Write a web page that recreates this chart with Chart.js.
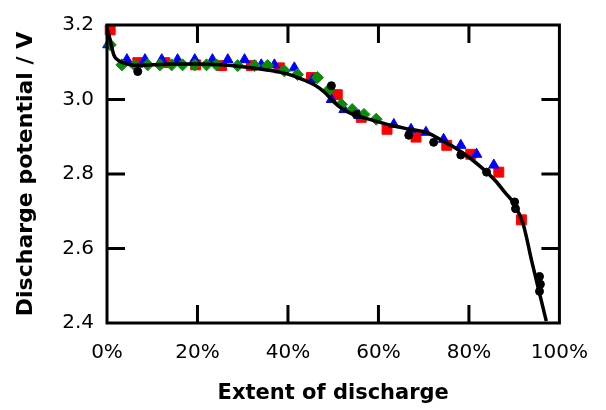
<!DOCTYPE html>
<html>
<head>
<meta charset="utf-8">
<script src="https://cdn.jsdelivr.net/npm/chart.js@4/dist/chart.umd.min.js"></script>
<style>
  html, body { margin: 0; padding: 0; background: #fff; }
  #wrap { width: 606px; height: 410px; }
</style>
</head>
<body>
<div id="wrap"><canvas id="discharge"></canvas></div>
<script>
// Fitted curve
const fitX = [0, 0.5, 1.5, 2.5, 4, 6, 10, 15, 20, 25, 30, 35, 40, 43, 46, 48, 50, 52, 54, 57, 60, 63, 67, 71, 74, 77, 80, 83, 86, 88, 90, 92, 94, 96, 97.1];
const fitY = [3.19, 3.17, 3.12, 3.105, 3.097, 3.092, 3.093, 3.095, 3.095, 3.093, 3.088, 3.08, 3.068, 3.055, 3.038, 3.02, 2.995, 2.975, 2.962, 2.95, 2.94, 2.93, 2.92, 2.91, 2.89, 2.87, 2.845, 2.815, 2.78, 2.75, 2.72, 2.665, 2.56, 2.46, 2.405];

// Measured runs
const redX = [0.7, 6.8, 12.8, 19.6, 25.3, 31.9, 38.1, 45.2, 50.9, 56.2, 61.9, 68.3, 75.1, 80.4, 86.6, 91.6];
const redY = [3.187, 3.099, 3.099, 3.093, 3.091, 3.091, 3.085, 3.059, 3.013, 2.952, 2.92, 2.899, 2.877, 2.853, 2.805, 2.677];

const blueX = [0.2, 4.4, 8.4, 12.1, 15.6, 19.4, 23.3, 26.7, 30.4, 34.1, 37, 41.4, 45.4, 49.6, 52.4, 55.7, 63.4, 67.2, 70.5, 74.4, 78.2, 81.7, 85.5];
const blueY = [3.147, 3.107, 3.107, 3.107, 3.107, 3.107, 3.107, 3.107, 3.107, 3.093, 3.093, 3.085, 3.053, 3.0, 2.973, 2.957, 2.933, 2.92, 2.912, 2.893, 2.877, 2.853, 2.824];

const greenX = [0.7, 3.3, 6.2, 9, 11.7, 14.3, 16.7, 19.4, 22, 24.2, 28.9, 32.6, 35.5, 39.2, 42.1, 46.5, 49.1, 51.8, 54.2, 56.8, 59.5];
const greenY = [3.147, 3.093, 3.091, 3.093, 3.093, 3.093, 3.093, 3.093, 3.093, 3.093, 3.091, 3.091, 3.091, 3.077, 3.067, 3.059, 3.027, 2.987, 2.973, 2.96, 2.947];

const blackX = [6.8, 49.6, 55.1, 66.7, 72.2, 78.2, 83.9, 90.1, 90.3, 95.6, 95.8, 95.6];
const blackY = [3.075, 3.037, 2.96, 2.904, 2.885, 2.851, 2.805, 2.725, 2.707, 2.525, 2.504, 2.485];

const xTicks = [0, 20, 40, 60, 80, 100];
const yTicks = [2.4, 2.6, 2.8, 3.0, 3.2];

function pts(xs, ys) {
    return xs.map(function (v, i) { return {x: v, y: ys[i]}; });
}

// Frame with inward ticks on all four sides
const TICK = 18;
const frame = {
    id: 'frame',
    afterDatasetsDraw: function (chart) {
        var ctx = chart.ctx, a = chart.chartArea;
        var sx = chart.scales.x, sy = chart.scales.y;
        ctx.save();
        ctx.strokeStyle = '#000';
        ctx.lineWidth = 3;
        ctx.beginPath();
        xTicks.forEach(function (v) {
            if (v <= 0 || v >= 100) return;
            var px = sx.getPixelForValue(v);
            ctx.moveTo(px, a.bottom); ctx.lineTo(px, a.bottom - TICK);
            ctx.moveTo(px, a.top); ctx.lineTo(px, a.top + TICK);
        });
        yTicks.forEach(function (v) {
            if (v <= 2.4 || v >= 3.2) return;
            var py = sy.getPixelForValue(v);
            ctx.moveTo(a.left, py); ctx.lineTo(a.left + TICK, py);
            ctx.moveTo(a.right, py); ctx.lineTo(a.right - TICK, py);
        });
        ctx.stroke();
        ctx.strokeRect(a.left, a.top, a.right - a.left, a.bottom - a.top);
        ctx.restore();
    }
};

var ctx = document.getElementById('discharge').getContext('2d');
var myChart = new Chart(ctx, {
    type: 'scatter',
    data: {
        datasets: [{
                type: 'line',
                data: pts(fitX, fitY),
                borderColor: '#000',
                borderWidth: 3.5,
                pointRadius: 0,
                cubicInterpolationMode: 'monotone',
                order: 0
            },
            {
                data: pts(blackX, blackY),
                backgroundColor: '#000',
                borderColor: '#000',
                pointStyle: 'circle',
                pointRadius: 4,
                clip: false,
                order: 1
            },
            {
                data: pts(greenX, greenY),
                backgroundColor: '#0a8c0a',
                borderColor: '#0a8c0a',
                pointStyle: 'rectRot',
                pointRadius: 6,
                clip: false,
                order: 2
            },
            {
                data: pts(blueX, blueY),
                backgroundColor: '#0000ff',
                borderColor: '#0000ff',
                pointStyle: 'triangle',
                pointRadius: 6,
                clip: false,
                order: 3
            },
            {
                data: pts(redX, redY),
                backgroundColor: '#ff0000',
                borderColor: '#ff0000',
                pointStyle: 'rect',
                pointRadius: 7,
                clip: false,
                order: 4
            }
        ]
    },
    options: {
        responsive: true,
        maintainAspectRatio: false,
        animation: false,
        layout: { padding: { top: 22, right: 45, left: 0, bottom: 0 } },
        plugins: { legend: { display: false }, tooltip: { enabled: false } },
        scales: {
            x: {
                type: 'linear',
                min: 0,
                max: 100,
                afterBuildTicks: function (s) { s.ticks = xTicks.map(function (v) { return {value: v}; }); },
                afterFit: function (s) { s.height = 87; },
                grid: { display: false, drawTicks: false },
                border: { display: false },
                ticks: {
                    color: '#000',
                    padding: 18,
                    font: { family: 'DejaVu Sans', size: 20 },
                    callback: function (v) { return v + '%'; }
                },
                title: {
                    display: true,
                    text: 'Extent of discharge',
                    color: '#000',
                    padding: { top: 10, bottom: 4 },
                    font: { family: 'DejaVu Sans', size: 21, weight: 'bold' }
                }
            },
            y: {
                min: 2.4,
                max: 3.2,
                afterBuildTicks: function (s) { s.ticks = yTicks.map(function (v) { return {value: v}; }); },
                afterFit: function (s) { s.width = 107; },
                grid: { display: false, drawTicks: false },
                border: { display: false },
                ticks: {
                    color: '#000',
                    padding: 13,
                    font: { family: 'DejaVu Sans', size: 20 },
                    callback: function (v) { return v.toFixed(1); }
                },
                title: {
                    display: true,
                    text: 'Discharge potential / V',
                    color: '#000',
                    padding: { top: 13, bottom: 0 },
                    font: { family: 'DejaVu Sans', size: 22, weight: 'bold' }
                }
            }
        }
    },
    plugins: [frame]
});
</script>
</body>
</html>
